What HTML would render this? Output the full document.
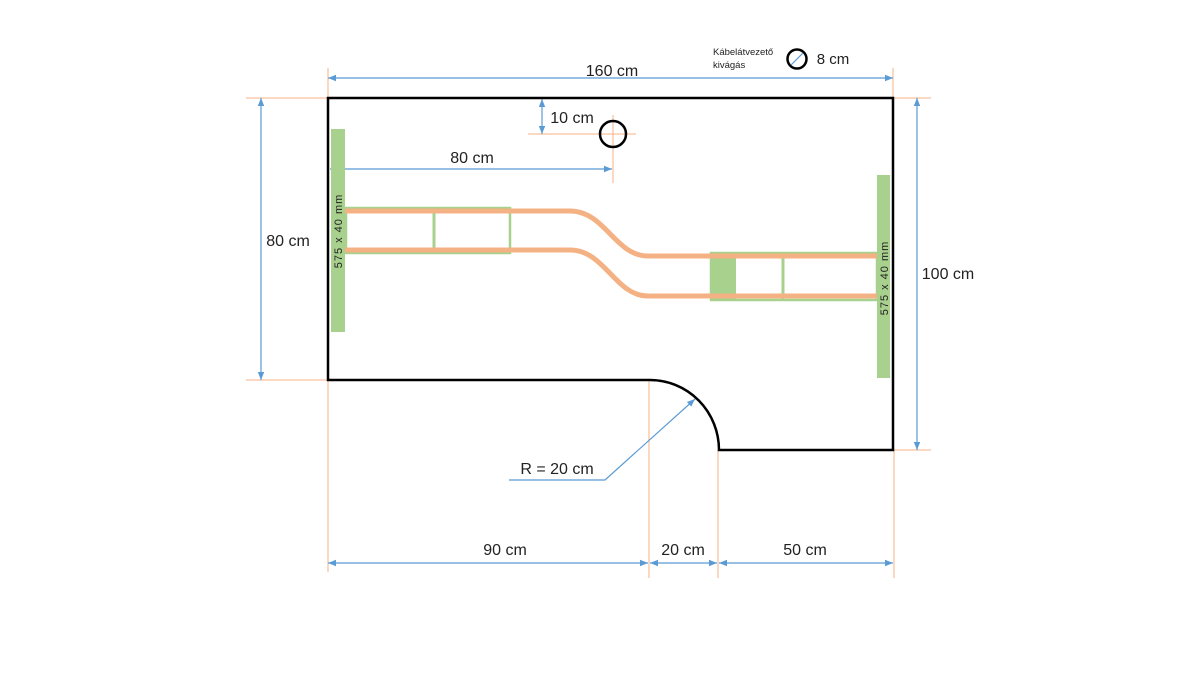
<!DOCTYPE html>
<html><head><meta charset="utf-8"><style>html,body{margin:0;padding:0;background:#fff}svg{display:block}text{font-family:"Liberation Sans",sans-serif;fill:#222}</style></head>
<body>
<svg width="1200" height="675" viewBox="0 0 1200 675" xmlns="http://www.w3.org/2000/svg">
<defs>
<marker id="a" viewBox="0 0 10 10" refX="10" refY="5" markerWidth="8" markerHeight="8" orient="auto-start-reverse" markerUnits="userSpaceOnUse"><path d="M0,1 L10,5 L0,9 z" fill="#5b9bd5"/></marker>
</defs>
<g stroke="#f4b183" stroke-width="1" fill="none">
<line x1="328" y1="68" x2="328" y2="98"/><line x1="893" y1="68" x2="893" y2="98"/>
<line x1="246" y1="98" x2="328" y2="98"/><line x1="246" y1="380" x2="328" y2="380"/>
<line x1="893" y1="98" x2="931" y2="98"/><line x1="893" y1="450" x2="931" y2="450"/>
<line x1="328" y1="380" x2="328" y2="572"/><line x1="649" y1="380" x2="649" y2="578"/>
<line x1="718" y1="450" x2="718" y2="578"/><line x1="894" y1="450" x2="894" y2="578"/>
<line x1="528" y1="134" x2="636" y2="134"/><line x1="613" y1="115" x2="613" y2="183"/>
</g>
<g stroke="#5b9bd5" stroke-width="1.2" fill="none">
<line x1="328" y1="78" x2="893" y2="78" marker-start="url(#a)" marker-end="url(#a)"/>
<line x1="261" y1="98" x2="261" y2="380" marker-start="url(#a)" marker-end="url(#a)"/>
<line x1="917" y1="98" x2="917" y2="450" marker-start="url(#a)" marker-end="url(#a)"/>
<line x1="328" y1="563" x2="648" y2="563" marker-start="url(#a)" marker-end="url(#a)"/>
<line x1="650" y1="563" x2="717" y2="563" marker-start="url(#a)" marker-end="url(#a)"/>
<line x1="719" y1="563" x2="893" y2="563" marker-start="url(#a)" marker-end="url(#a)"/>
<line x1="542" y1="99" x2="542" y2="134" marker-start="url(#a)" marker-end="url(#a)"/>
<line x1="330" y1="169" x2="612" y2="169" marker-end="url(#a)"/>
<polyline points="509,480 605,480 695,399" marker-end="url(#a)"/>
</g>
<!-- green bars -->
<rect x="331" y="129" width="14" height="203" fill="#a9d18e"/>
<rect x="877" y="175" width="13" height="203" fill="#a9d18e"/>
<rect x="346" y="208" width="164" height="45" fill="none" stroke="#a9d18e" stroke-width="2.5"/>
<line x1="434" y1="208" x2="434" y2="254" stroke="#a9d18e" stroke-width="3"/>
<rect x="711" y="253" width="166" height="47" fill="none" stroke="#a9d18e" stroke-width="2.5"/>
<rect x="711" y="253" width="25" height="47" fill="#a9d18e"/>
<line x1="783" y1="253" x2="783" y2="301" stroke="#a9d18e" stroke-width="3"/>
<g stroke="#f4b183" stroke-width="5" fill="none">
<path d="M345,211 L570,211 C605,211 615,256 648,256 L877,256"/>
<path d="M345,250 L570,250 C605,250 615,296 648,296 L877,296"/>
</g>
<text transform="translate(342,231) rotate(-90)" font-size="11" text-anchor="middle" letter-spacing="1">575 x 40 mm</text>
<text transform="translate(888,278) rotate(-90)" font-size="11" text-anchor="middle" letter-spacing="1">575 x 40 mm</text>
<path d="M328,98 L893,98 L893,450 L719,450 A69,70 0 0 0 650,380 L328,380 Z" fill="none" stroke="#000" stroke-width="2.5"/>
<circle cx="613" cy="134" r="13" fill="none" stroke="#000" stroke-width="2.5"/>
<circle cx="797" cy="59" r="9.5" fill="none" stroke="#000" stroke-width="2.5"/>
<line x1="791" y1="65" x2="803" y2="53" stroke="#5b9bd5" stroke-width="1.2"/>
<text x="612" y="76" font-size="16" text-anchor="middle">160 cm</text>
<text x="288" y="246" font-size="16" text-anchor="middle">80 cm</text>
<text x="948" y="279" font-size="16" text-anchor="middle">100 cm</text>
<text x="572" y="123" font-size="16" text-anchor="middle">10 cm</text>
<text x="472" y="163" font-size="16" text-anchor="middle">80 cm</text>
<text x="557" y="474" font-size="16" text-anchor="middle">R = 20 cm</text>
<text x="505" y="555" font-size="16" text-anchor="middle">90 cm</text>
<text x="683" y="555" font-size="16" text-anchor="middle">20 cm</text>
<text x="805" y="555" font-size="16" text-anchor="middle">50 cm</text>
<text x="833" y="64" font-size="15" text-anchor="middle">8 cm</text>
<text x="713" y="55" font-size="9.5">Kábelátvezető</text>
<text x="713" y="68" font-size="9.5">kivágás</text>
</svg>
</body></html>
